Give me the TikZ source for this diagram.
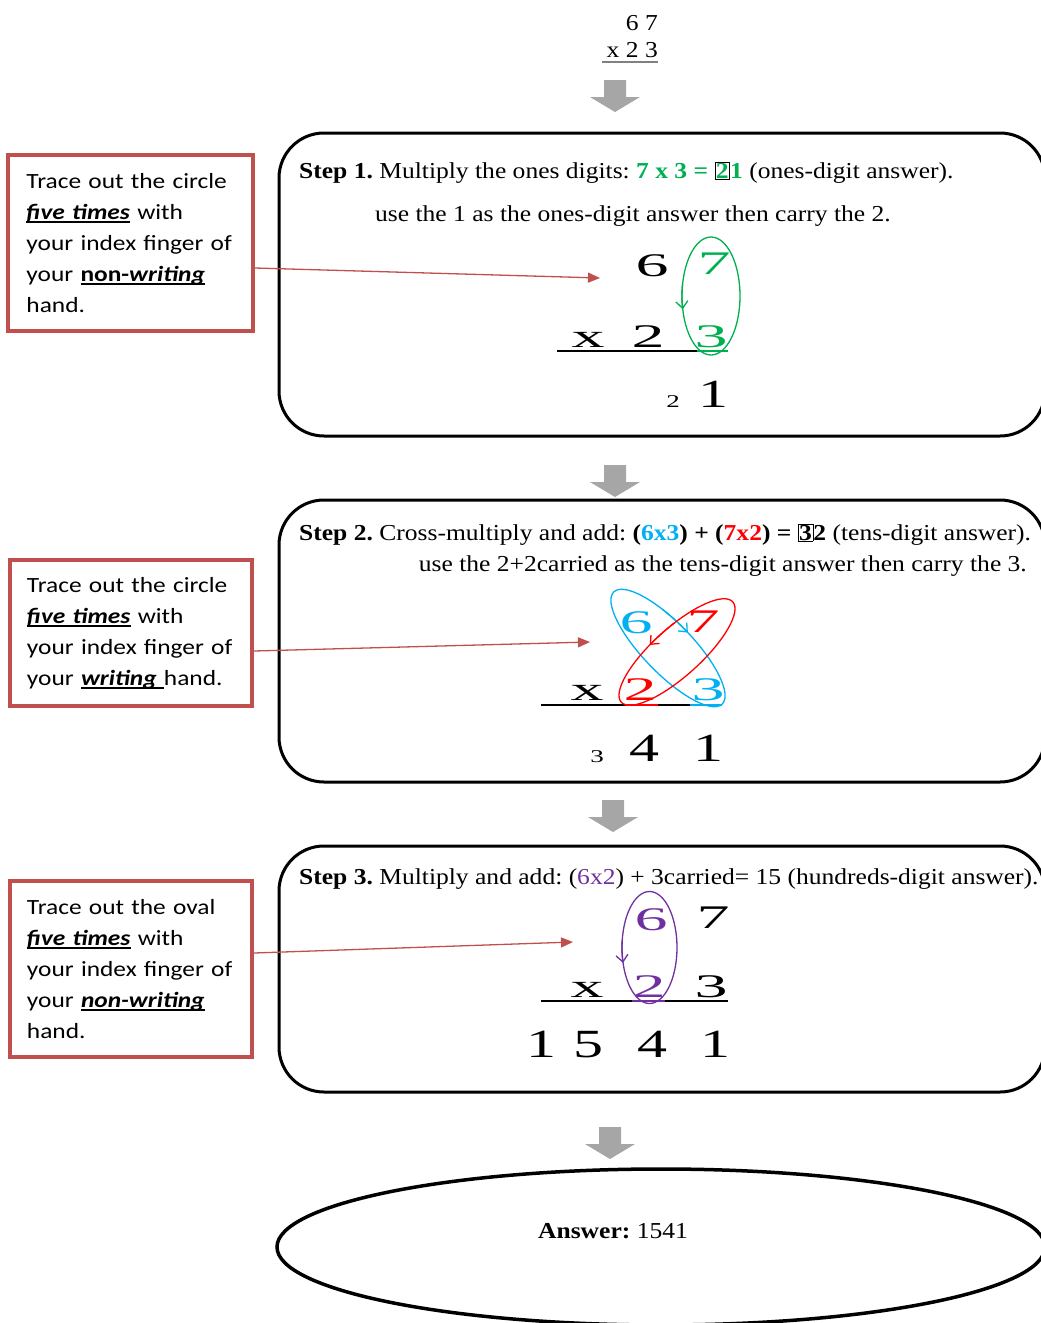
\documentclass[tikz,border=0pt]{standalone}
\usepackage{fontspec}
\setmainfont{Liberation Serif}[FakeStretch=1.12]
\newfontfamily\notefont{Carlito}[FakeStretch=1.17]
\newfontfamily\digfont{Liberation Serif}[FakeStretch=2.0]
\newfontfamily\resfont{Liberation Serif}[FakeStretch=1.5]
\usepackage{xcolor}
\usepackage{tikz}
\usetikzlibrary{arrows.meta, shapes.geometric}
\definecolor{stepgreen}{RGB}{0, 176, 80}
\definecolor{markblue}{RGB}{0, 176, 240}
\definecolor{markred}{RGB}{255, 0, 0}
\definecolor{markpurple}{RGB}{112, 48, 160}
\definecolor{notered}{RGB}{192, 80, 77}
\definecolor{arrowgray}{RGB}{166, 166, 166}
\definecolor{topgray}{RGB}{128, 128, 128}
\frenchspacing
\newcommand{\handul}[1]{\leavevmode\setbox0=\hbox{#1}\rlap{\rule[-3.5pt]{\wd0}{1.6pt}}\box0\relax}
\newcommand{\digbox}[1]{{\fboxsep=0.6pt\fboxrule=0.8pt\fcolorbox{black}{white}{#1}}}

\begin{document}
\begin{tikzpicture}[x=1pt, y=1pt,
          stepbox/.style={draw, line width=3pt, rounded corners=45pt, minimum width=766pt},
          steptext/.style={font=\fontsize{22.8}{26}\selectfont, inner sep=0pt, anchor=base west},
          notebox/.style={draw=notered, line width=4pt, text width=208pt, align=left, inner sep=0pt,
                          font=\notefont\fontsize{21.7}{31}\selectfont},
          pointer/.style={notered, line width=1.3pt, -{Triangle[length=12pt, width=10pt]}},
          opd/.style={font=\digfont\fontsize{33}{33}\selectfont, inner sep=0pt, anchor=base},
          res/.style={font=\resfont\fontsize{40}{40}\selectfont, inner sep=0pt, anchor=base},
          carry/.style={font=\resfont\fontsize{18}{18}\selectfont, inner sep=0pt, anchor=base},
          rulebar/.style={line width=2.5pt},
          ring/.style={line width=1.3pt},
          ringarrow/.style={line width=1.3pt, -{Straight Barb[length=7pt, width=12pt]}},
          flowarrow/.pic={\fill[arrowgray] (-11,0) -- (11,0) -- (11,-17) -- (25,-17) -- (0,-32)
                          -- (-25,-17) -- (-11,-17) -- cycle;},
        ]
        \clip (0,0) rectangle (1041,-1323);

        \node[steptext, anchor=base east] (top1) at (658,-30) {6 7};
        \node[steptext, anchor=base east] (top2) at (658,-57) {x 2 3};
        \draw[line width=2pt, topgray] (602,-62) -- (658,-62);
        \pic at (615,-80) {flowarrow};

        % step 1
        \node[stepbox, minimum height=303pt] (s1) at (662,-284.5) {};
        \node[steptext] (s1a) at (299,-178) {\textbf{Step 1.} Multiply the ones digits: \textcolor{stepgreen}{\textbf{7 x 3 = \digbox{2}1}} (ones-digit answer).};
        \node[steptext] (s1b) at (375,-221) {use the 1 as the ones-digit answer then carry the 2.};
        \node[opd] (a6) at (652,-276) {6};
        \node[opd, text=stepgreen] (a7) at (714,-274) {7};
        \node[opd] (ax) at (588,-347) {x};
        \node[opd] (a2) at (648,-347) {2};
        \node[opd, text=stepgreen] (a3) at (711,-347) {3};
        \node[carry] (ac) at (673,-407) {2};
        \node[res] (a1) at (713,-407) {1};
        \draw[rulebar] (557,-351) -- (697,-351);
        \draw[rulebar, stepgreen] (697,-351) -- (728,-351);
        \draw[ring, stepgreen] (711,-296) ellipse [x radius=29, y radius=59];
        \draw[ringarrow, stepgreen] ([shift={(168:29 and 59)}]711,-296) arc[start angle=168, end angle=193, x radius=29, y radius=59];

        \node[notebox, minimum width=245pt, minimum height=176pt] (n1) at (130.5,-243)
          {Trace out the circle\\\handul{\textbf{\textit{five times}}} with\\your index finger of\\your \handul{\textbf{non-\textit{writing}}}\\hand.};
        \coordinate (p1) at (600,-278);
        \draw[pointer] ([yshift=-25pt]n1.east) -- (p1);

        \pic at (615,-465) {flowarrow};

        % step 2
        \node[stepbox, minimum height=282pt] (s2) at (662,-641) {};
        \node[steptext] (s2a) at (299,-540) {\textbf{Step 2.} Cross-multiply and add: \textbf{(\textcolor{markblue}{6x3}) + (\textcolor{markred}{7x2}) = \digbox{3}2} (tens-digit answer).};
        \node[steptext, anchor=base east] (s2b) at (1027,-571) {use the 2+2carried as the tens-digit answer then carry the 3.};
        \node[opd, text=markblue] (b6) at (636,-633) {6};
        \node[opd, text=markred] (b7) at (703,-632) {7};
        \node[opd] (bx) at (587,-700) {x};
        \node[opd, text=markred] (b2) at (640,-700) {2};
        \node[opd, text=markblue] (b3) at (708,-700) {3};
        \node[carry] (bc) at (597,-762) {3};
        \node[res] (b4) at (644,-761) {4};
        \node[res] (b1) at (708,-761) {1};
        \draw[rulebar] (541,-705) -- (722,-705);
        \draw[rulebar, markred] (625,-705) -- (658,-705);
        \draw[rulebar, markblue] (690,-705) -- (722,-705);
        \begin{scope}[shift={(668,-648)}, rotate=-46]
          \draw[ring, markblue] (0,0) ellipse [x radius=78, y radius=25];
          \draw[ringarrow, markblue] (114:78 and 25) arc[start angle=114, end angle=88, x radius=78, y radius=25];
        \end{scope}
        \begin{scope}[shift={(677,-652)}, rotate=42]
          \draw[ring, markred] (0,0) ellipse [x radius=75, y radius=24];
          \draw[ringarrow, markred] (76:75 and 24) arc[start angle=76, end angle=102, x radius=75, y radius=24];
        \end{scope}

        \node[notebox, minimum width=242pt, minimum height=146pt] (n2) at (131,-633)
          {Trace out the circle\\\handul{\textbf{\textit{five times}}} with\\your index finger of\\your \handul{\textbf{\textit{writing}}\ }hand.};
        \coordinate (p2) at (590,-642);
        \draw[pointer] ([yshift=-18pt]n2.east) -- (p2);

        \pic at (613,-800) {flowarrow};

        % step 3
        \node[stepbox, minimum height=246pt] (s3) at (662,-969) {};
        \node[steptext] (s3a) at (299,-884) {\textbf{Step 3.} Multiply and add: (\textcolor{markpurple}{6x2}) + 3carried= 15 (hundreds-digit answer).};
        \node[opd, text=markpurple] (c6) at (651,-930) {6};
        \node[opd] (c7) at (713,-928) {7};
        \node[opd] (cx) at (587,-997) {x};
        \node[opd, text=markpurple] (c2) at (649,-997) {2};
        \node[opd] (c3) at (711,-997) {3};
        \node[res] (r1) at (541,-1057) {1};
        \node[res] (r5) at (588,-1057) {5};
        \node[res] (r4) at (652,-1057) {4};
        \node[res] (r0) at (715,-1057) {1};
        \draw[rulebar] (541,-1001) -- (728,-1001);
        \draw[rulebar, markpurple] (632,-1001) -- (665,-1001);
        \draw[ring, markpurple] (649.5,-947.5) ellipse [x radius=27.5, y radius=56];
        \draw[ringarrow, markpurple] ([shift={(172:27.5 and 56)}]649.5,-947.5) arc[start angle=172, end angle=196, x radius=27.5, y radius=56];

        \node[notebox, minimum width=242pt, minimum height=176pt] (n3) at (131,-969)
          {Trace out the oval\\\handul{\textbf{\textit{five times}}} with\\your index finger of\\your \handul{\textbf{\textit{non-writing}}}\\hand.};
        \coordinate (p3) at (573,-942);
        \draw[pointer] ([yshift=16pt]n3.east) -- (p3);

        \pic at (610,-1127) {flowarrow};

        \node[draw, ellipse, line width=3.5pt, minimum width=768pt, minimum height=156pt] (ans) at (661,-1247) {};
        \node[steptext, anchor=base] (anstext) at (613,-1238) {\textbf{Answer:} 1541};
      \end{tikzpicture}
\end{document}
